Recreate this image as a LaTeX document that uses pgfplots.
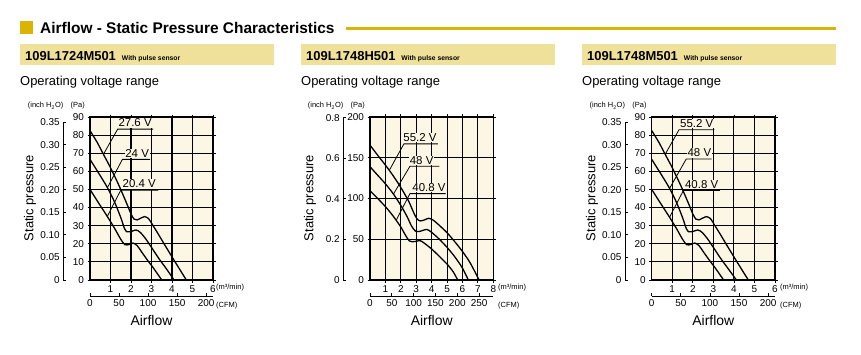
\documentclass[border=0pt]{standalone}
\usepackage{pgfplots}
\pgfplotsset{compat=1.18}
\usepackage{fontspec}
\setmainfont{Liberation Sans}
\definecolor{gold}{RGB}{218,180,0}
\definecolor{banner}{RGB}{239,224,154}
\definecolor{plotbg}{RGB}{252,247,228}
\newcommand{\fs}[1]{\fontsize{#1}{#1}\selectfont}
\tikzset{
  lead/.style={black, line width=0.8bp},
  vlab/.style={anchor=south, font=\fs{11.5}, inner sep=0.6bp, fill=plotbg},
}
\pgfplotsset{
  mainax/.style={scale only axis, anchor=south west, height=163bp,
    xmin=0, ymin=0, grid=major,
    major grid style={black, line width=1.1bp},
    axis line style={black, line width=1.1bp},
    axis background/.style={fill=plotbg},
    tick style={black, line width=0.8bp}, tick align=outside,
    major tick length=2.5bp,
    /pgf/number format/assume math mode=true,
    ticklabel style={font=\fs{10}},
    clip=false},
  curve/.style={black, line width=1.3bp, smooth, tension=0.45, mark=none},
  inchax/.style={scale only axis, anchor=south west, width=1bp, xmin=0, xmax=1, ymin=0,
    hide x axis, axis y line*=left, axis line style={black, line width=0.8bp},
    tick style={black, line width=0.8bp}, tick align=inside, major tick length=3bp,
    /pgf/number format/assume math mode=true,
    ticklabel style={font=\fs{10}}},
  cfmax/.style={scale only axis, anchor=south west, height=1bp, ymin=0, ymax=1, xmin=0,
    hide y axis, axis x line*=bottom, axis line style={black, line width=0.8bp},
    tick style={black, line width=0.8bp}, tick align=inside, major tick length=3bp,
    /pgf/number format/assume math mode=true,
    ticklabel style={font=\fs{10}}},
}
\begin{document}
\begin{tikzpicture}[x=1bp,y=1bp]
\useasboundingbox (0,0) rectangle (861,354);
% header
\fill[gold] (20,319.7) rectangle (33.3,333);
\node[anchor=base west, inner sep=0] at (40,320.7) {\fs{15.5}\bfseries Airflow - Static Pressure Characteristics};
\draw[gold, line width=3.5bp] (346,325.3) -- (836,325.3);
% banners
\fill[banner] (20,289) rectangle (274,309.7);
\fill[banner] (301,289) rectangle (555,309.7);
\fill[banner] (582,289) rectangle (836,309.7);
\node[anchor=base west, inner sep=0] at (25,294) {\fs{13}\bfseries 109L1724M501\hspace{6bp}\fs{6.8}With pulse sensor};
\node[anchor=base west, inner sep=0] at (306,294) {\fs{13}\bfseries 109L1748H501\hspace{6bp}\fs{6.8}With pulse sensor};
\node[anchor=base west, inner sep=0] at (587,294) {\fs{13}\bfseries 109L1748M501\hspace{6bp}\fs{6.8}With pulse sensor};
\node[anchor=base west, inner sep=0] at (20,269) {\fs{13}Operating voltage range};
\node[anchor=base west, inner sep=0] at (301,269) {\fs{13}Operating voltage range};
\node[anchor=base west, inner sep=0] at (582,269) {\fs{13}Operating voltage range};

% ================= chart 1 =================
\node[anchor=east, inner sep=0] at (63.5,248) {\fs{7.5}(inch H\textsubscript{2}O)};
\node[anchor=east, inner sep=0] at (85,248) {\fs{7.5}(Pa)};
\node[rotate=90, inner sep=0] at (30,156) {\fs{13}Static pressure};
\node[inner sep=0] at (151.5,33) {\fs{14}Airflow};
\node[anchor=west, inner sep=0] at (216,66.5) {\fs{7.5}(m³/min)};
\node[anchor=west, inner sep=0] at (216,48) {\fs{7.5}(CFM)};
\begin{axis}[inchax, at={(63.3bp,74bp)}, height=157.9bp, ymax=0.35,
  ytick={0,0.05,0.10,0.15,0.20,0.25,0.30,0.35},
  yticklabels={0,0.05,0.10,0.15,0.20,0.25,0.30,0.35}]
\end{axis}
\begin{axis}[cfmax, at={(90bp,58bp)}, width=123bp, xmax=211.888,
  xtick={0,50,100,150,200}]
\end{axis}
\begin{axis}[mainax, at={(90bp,74bp)}, width=123bp, xmax=6, ymax=90,
  xtick={1,2,3,4,5,6}, ytick={0,10,20,30,40,50,60,70,80,90}]
\addplot[curve] coordinates {(0,82.5) (0.35,76) (0.65,69.5) (1,62) (1.4,52.5) (1.8,42) (2.0,36.5) (2.15,33.6) (2.3,33.2) (2.5,34.3) (2.65,35) (2.85,34) (3.05,30.5) (3.35,25) (3.65,19.3) (4.15,10) (4.7,0)};
\addplot[curve] coordinates {(0,66.6) (0.45,58.5) (0.85,51) (1.2,43) (1.5,34.5) (1.68,28.5) (1.8,26.6) (1.95,26.6) (2.25,27.6) (2.45,26.3) (2.7,23) (3.0,18) (3.35,12) (3.75,5.8) (4.1,0)};
\addplot[curve] coordinates {(0,50) (0.45,42) (0.85,35) (1.2,28.5) (1.5,22.5) (1.7,19.5) (1.9,19.6) (2.1,20.4) (2.3,19) (2.5,15.8) (2.8,11) (3.1,6.5) (3.5,0)};
\draw[lead] (axis cs:0.66,69.5) -- (axis cs:1.35,83.3) -- (axis cs:3.08,83.3);
\draw[lead] (axis cs:0.85,51) -- (axis cs:1.58,66.6) -- (axis cs:2.93,66.6);
\draw[lead] (axis cs:0.84,35) -- (axis cs:1.5,49.6) -- (axis cs:3.33,49.6);
\node[vlab] at (axis cs:2.2,84) {27.6 V};
\node[vlab] at (axis cs:2.3,67.3) {24 V};
\node[vlab] at (axis cs:2.4,50.3) {20.4 V};
\end{axis}

% ================= chart 2 =================
\node[anchor=east, inner sep=0] at (343.5,248) {\fs{7.5}(inch H\textsubscript{2}O)};
\node[anchor=east, inner sep=0] at (365,248) {\fs{7.5}(Pa)};
\node[rotate=90, inner sep=0] at (310,156) {\fs{13}Static pressure};
\node[inner sep=0] at (431.7,33) {\fs{14}Airflow};
\node[anchor=west, inner sep=0] at (498,66.5) {\fs{7.5}(m³/min)};
\node[anchor=west, inner sep=0] at (498,48) {\fs{7.5}(CFM)};
\begin{axis}[inchax, at={(343.3bp,74bp)}, height=162.4bp, ymax=0.8,
  ytick={0,0.2,0.4,0.6,0.8},
  yticklabels={0,0.2,0.4,0.6,0.8}]
\end{axis}
\begin{axis}[cfmax, at={(370bp,58bp)}, width=123.3bp, xmax=282.52,
  xtick={0,50,100,150,200,250}]
\end{axis}
\begin{axis}[mainax, at={(370bp,74bp)}, width=123.3bp, xmax=8, ymax=200,
  xtick={1,2,3,4,5,6,7,8}, ytick={0,50,100,150,200}]
\addplot[curve] coordinates {(0,165.5) (0.5,153) (1,141) (1.5,128) (2,113.5) (2.5,97) (2.85,82) (3.05,75) (3.25,72.5) (3.5,73.5) (3.8,75.7) (4.1,73.5) (4.5,67) (5,58) (5.5,47) (6,35) (6.5,21) (7.08,0)};
\addplot[curve] coordinates {(0,139) (0.5,128.5) (1,118) (1.5,106) (2,91.5) (2.4,78) (2.7,66) (2.95,60) (3.2,59.5) (3.45,61) (3.7,62) (4.0,58.5) (4.5,50) (5,40) (5.5,28.5) (6,14.5) (6.38,0)};
\addplot[curve] coordinates {(0,109.5) (0.5,100) (1,90) (1.5,78.5) (2,65) (2.3,55) (2.55,48) (2.8,47) (3.0,47.5) (3.25,48.3) (3.5,45.5) (4,38) (4.5,29) (5,19.5) (5.4,10) (5.69,0)};
\draw[lead] (axis cs:1.25,134.5) -- (axis cs:2.2,167) -- (axis cs:4.4,167);
\draw[lead] (axis cs:1.52,105.4) -- (axis cs:2.59,139.5) -- (axis cs:4.5,139.5);
\draw[lead] (axis cs:1.7,73.3) -- (axis cs:2.59,106) -- (axis cs:4.9,106);
\node[vlab] at (axis cs:3.24,168.5) {55.2 V};
\node[vlab] at (axis cs:3.35,141) {48 V};
\node[vlab] at (axis cs:3.83,107.5) {40.8 V};
\end{axis}

% ================= chart 3 =================
\node[anchor=east, inner sep=0] at (625.2,248) {\fs{7.5}(inch H\textsubscript{2}O)};
\node[anchor=east, inner sep=0] at (646.7,248) {\fs{7.5}(Pa)};
\node[rotate=90, inner sep=0] at (592,156) {\fs{13}Static pressure};
\node[inner sep=0] at (713.3,33) {\fs{14}Airflow};
\node[anchor=west, inner sep=0] at (780,66.5) {\fs{7.5}(m³/min)};
\node[anchor=west, inner sep=0] at (780,48) {\fs{7.5}(CFM)};
\begin{axis}[inchax, at={(625bp,74bp)}, height=157.9bp, ymax=0.35,
  ytick={0,0.05,0.10,0.15,0.20,0.25,0.30,0.35},
  yticklabels={0,0.05,0.10,0.15,0.20,0.25,0.30,0.35}]
\end{axis}
\begin{axis}[cfmax, at={(651.7bp,58bp)}, width=123.3bp, xmax=211.888,
  xtick={0,50,100,150,200}]
\end{axis}
\begin{axis}[mainax, at={(651.7bp,74bp)}, width=123.3bp, xmax=6, ymax=90,
  xtick={1,2,3,4,5,6}, ytick={0,10,20,30,40,50,60,70,80,90}]
\addplot[curve] coordinates {(0,82.5) (0.35,76) (0.65,69.5) (1,62) (1.4,52.5) (1.8,42) (2.0,36.5) (2.15,33.6) (2.3,33.2) (2.5,34.3) (2.65,35) (2.85,34) (3.05,30.5) (3.35,25) (3.65,19.3) (4.15,10) (4.7,0)};
\addplot[curve] coordinates {(0,66.6) (0.45,58.5) (0.85,51) (1.2,43) (1.5,34.5) (1.68,28.5) (1.8,26.6) (1.95,26.6) (2.25,27.6) (2.45,26.3) (2.7,23) (3.0,18) (3.35,12) (3.75,5.8) (4.12,0)};
\addplot[curve] coordinates {(0,50) (0.45,42) (0.85,35) (1.2,28.5) (1.5,22.5) (1.7,19.5) (1.9,19.6) (2.1,20.4) (2.3,19) (2.5,15.8) (2.8,11) (3.1,6.5) (3.5,0)};
\draw[lead] (axis cs:0.66,69.5) -- (axis cs:1.33,83) -- (axis cs:3.05,83);
\draw[lead] (axis cs:0.87,50.6) -- (axis cs:1.68,66.8) -- (axis cs:2.92,66.8);
\draw[lead] (axis cs:0.87,34.7) -- (axis cs:1.54,49.4) -- (axis cs:3.32,49.4);
\node[vlab] at (axis cs:2.19,83.7) {55.2 V};
\node[vlab] at (axis cs:2.32,67.5) {48 V};
\node[vlab] at (axis cs:2.43,50.1) {40.8 V};
\end{axis}
\end{tikzpicture}
\end{document}
